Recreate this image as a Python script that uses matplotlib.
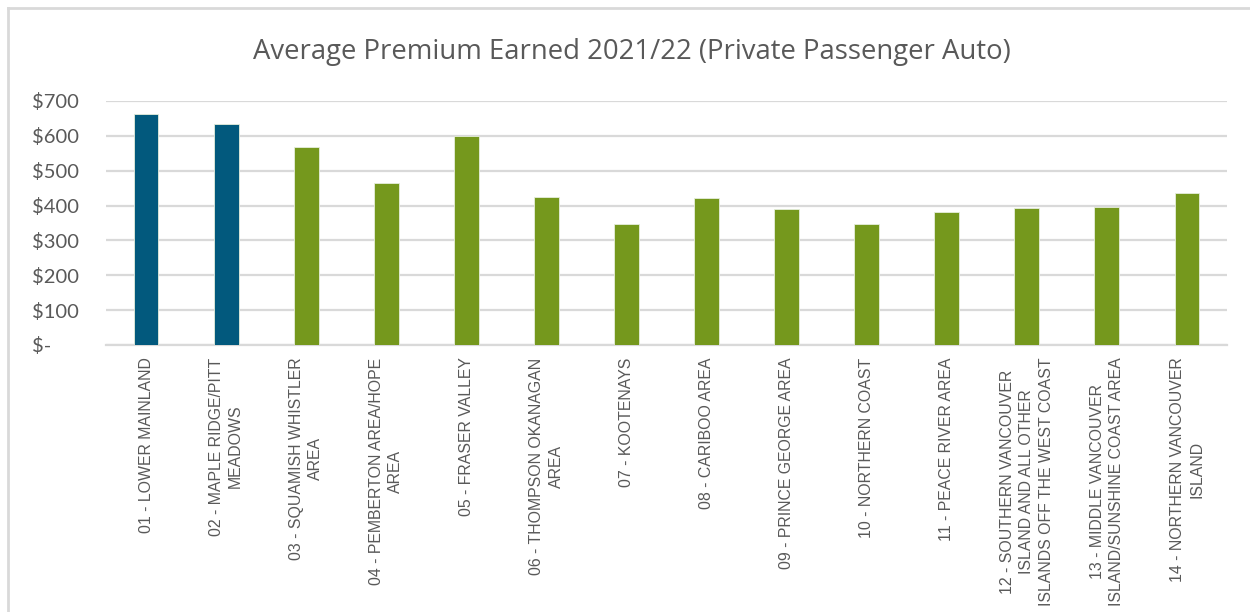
import matplotlib
matplotlib.use("Agg")
import matplotlib.pyplot as plt
from matplotlib.lines import Line2D

categories = [
    "01 - LOWER MAINLAND",
    "02 - MAPLE RIDGE/PITT\nMEADOWS",
    "03 - SQUAMISH WHISTLER\nAREA",
    "04 - PEMBERTON AREA/HOPE\nAREA",
    "05 - FRASER VALLEY",
    "06 - THOMPSON OKANAGAN\nAREA",
    "07 - KOOTENAYS",
    "08 - CARIBOO AREA",
    "09 - PRINCE GEORGE AREA",
    "10 - NORTHERN COAST",
    "11 - PEACE RIVER AREA",
    "12 - SOUTHERN VANCOUVER\nISLAND AND ALL OTHER\nISLANDS OFF THE WEST COAST",
    "13 - MIDDLE VANCOUVER\nISLAND/SUNSHINE COAST AREA",
    "14 - NORTHERN VANCOUVER\nISLAND",
]
premium = [664, 634, 568, 466, 601, 425, 348, 421, 389, 348, 381, 392, 396, 435]
highlight = [True, True, False, False, False, False, False, False, False, False, False, False, False, False]
yticks = [0, 100, 200, 300, 400, 500, 600, 700]
ytick_labels = ["$-", "$100", "$200", "$300", "$400", "$500", "$600", "$700"]
title = "Average Premium Earned 2021/22 (Private Passenger Auto)"

BLUE = "#02597D"
GREEN = "#75981D"
TEXT = "#595959"
GRID = "#D9D9D9"

W, H = 1250, 612
fig = plt.figure(figsize=(W / 100, H / 100), dpi=100)
fig.patch.set_facecolor("white")

# chart frame (left and top edges visible)
fig.add_artist(Line2D([8 / W, 8 / W], [0, 1 - 8 / H], transform=fig.transFigure,
                      color=GRID, linewidth=2))
fig.add_artist(Line2D([8 / W, 1], [1 - 8 / H, 1 - 8 / H], transform=fig.transFigure,
                      color=GRID, linewidth=2))

left, right = 106 / W, 1227 / W
bottom, top = 1 - 345 / H, 1 - 101 / H
ax = fig.add_axes([left, bottom, right - left, top - bottom])

x = list(range(len(categories)))
colors = [BLUE if h else GREEN for h in highlight]
ax.bar(x, premium, width=0.31, color=colors, edgecolor="#E6EEDC", linewidth=0.6, zorder=3)

ax.set_xlim(-0.5, len(categories) - 0.5)
ax.set_ylim(0, 700)
ax.set_yticks(yticks)
ax.set_yticklabels(ytick_labels, fontfamily="Lato", fontsize=14.5, color=TEXT, ha="left")
ax.tick_params(axis="y", length=0, pad=53)
ax.grid(axis="y", color=GRID, linewidth=1.6, zorder=0)
ax.set_axisbelow(True)
for s in ["top", "right", "left"]:
    ax.spines[s].set_visible(False)
ax.spines["bottom"].set_color(GRID)
ax.spines["bottom"].set_linewidth(1.6)
ax.spines["bottom"].set_zorder(1)

ax.set_xticks(x)
ax.set_xticklabels(categories, rotation=90, fontfamily="Liberation Sans", fontsize=11.4,
                   color=TEXT, ha="center", va="top", multialignment="center",
                   linespacing=1.35)
ax.tick_params(axis="x", length=0, pad=9)

fig.text(631.5 / W, 1 - 58.5 / H, title, ha="center", va="baseline",
         fontfamily="Open Sans", fontsize=19.8, color=TEXT)

fig.savefig("out.png", dpi=100, facecolor="white")
